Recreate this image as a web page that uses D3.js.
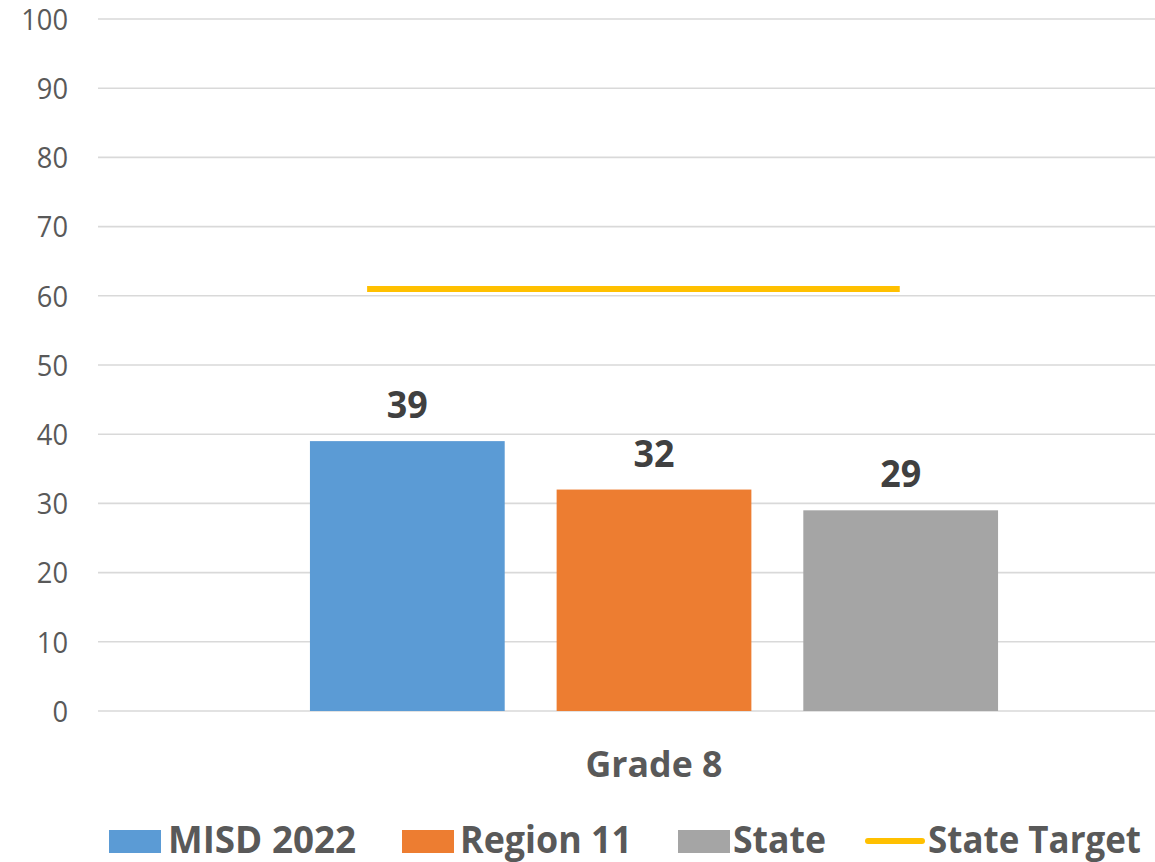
<!DOCTYPE html>
<html>
<head>
<meta charset="utf-8">
<script src="https://cdn.jsdelivr.net/npm/d3@7"></script>
<style>
  html, body { margin: 0; padding: 0; background: #fff; }
  svg { display: block; font-family: "Open Sans", Lato, sans-serif; }
</style>
</head>
<body>
<svg id="chart" width="1155" height="862"></svg>
<script>
// Chart data
const categories = ["Grade 8"];
const seriesNames = ["MISD 2022", "Region 11", "State"];
const seriesValues = [[39], [32], [29]];   // one value per category, per series
const targetName = "State Target";
const targetValues = [61];
const yTicks = [0, 10, 20, 30, 40, 50, 60, 70, 80, 90, 100];

const colors = ["#5B9BD5", "#ED7D31", "#A5A5A5"];
const targetColor = "#FFC000";

const plot = { left: 98, right: 1210, top: 19, bottom: 711 };

const svg = d3.select("#chart");

const y = d3.scaleLinear().domain([0, 100]).range([plot.bottom, plot.top]);
const x0 = d3.scaleBand().domain(categories).range([plot.left, plot.right]);
const bw = x0.bandwidth();
// bars sit in the middle of the category with a wide outer gap
const outerGap = 0.1906 * bw;
const x1 = d3.scaleBand().domain(seriesNames)
  .range([outerGap, bw - outerGap]).paddingInner(0.2105).paddingOuter(0);

// gridlines
svg.append("g").selectAll("line").data(yTicks).join("line")
  .attr("x1", plot.left).attr("x2", plot.right)
  .attr("y1", d => y(d)).attr("y2", d => y(d))
  .attr("stroke", "#D9D9D9").attr("stroke-width", 1.6);

// y axis labels
svg.append("g").selectAll("text").data(yTicks).join("text")
  .attr("x", 68).attr("y", d => y(d))
  .attr("dy", "0.36em")
  .attr("text-anchor", "end")
  .attr("fill", "#595959")
  .attr("font-size", 30)
  .attr("textLength", d => String(d).length * 15.6)
  .attr("lengthAdjust", "spacingAndGlyphs")
  .text(d => d);

// bars
const rows = [];
categories.forEach((c, ci) => seriesNames.forEach((s, si) =>
  rows.push({ cat: c, series: s, value: seriesValues[si][ci], color: colors[si] })));

svg.append("g").selectAll("rect").data(rows).join("rect")
  .attr("x", d => x0(d.cat) + x1(d.series))
  .attr("y", d => y(d.value))
  .attr("width", x1.bandwidth())
  .attr("height", d => y(0) - y(d.value))
  .attr("fill", d => d.color);

// value labels
svg.append("g").selectAll("text").data(rows).join("text")
  .attr("x", d => x0(d.cat) + x1(d.series) + x1.bandwidth() / 2)
  .attr("y", d => y(d.value) - 23)
  .attr("text-anchor", "middle")
  .attr("fill", "#404040")
  .attr("font-size", 37)
  .attr("font-weight", "bold")
  .attr("textLength", 41).attr("lengthAdjust", "spacingAndGlyphs")
  .text(d => d.value);

// state target line
const targetSpan = [0.242, 0.721];
svg.append("g").selectAll("line").data(categories).join("line")
  .attr("x1", c => x0(c) + targetSpan[0] * bw)
  .attr("x2", c => x0(c) + targetSpan[1] * bw)
  .attr("y1", (c, i) => y(targetValues[i]))
  .attr("y2", (c, i) => y(targetValues[i]))
  .attr("stroke", targetColor).attr("stroke-width", 6);

// category label
svg.append("g").selectAll("text").data(categories).join("text")
  .attr("x", c => x0(c) + bw / 2)
  .attr("y", 777)
  .attr("text-anchor", "middle")
  .attr("fill", "#595959")
  .attr("font-size", 36)
  .attr("font-weight", "bold")
  .attr("textLength", 137).attr("lengthAdjust", "spacingAndGlyphs")
  .text(c => c);

// legend
const legendItems = [
  { name: seriesNames[0], type: "rect", color: colors[0], sx: 109, tx: 168, tw: 188 },
  { name: seriesNames[1], type: "rect", color: colors[1], sx: 402, tx: 460, tw: 172 },
  { name: seriesNames[2], type: "rect", color: colors[2], sx: 678, tx: 733, tw: 93 },
  { name: targetName, type: "line", color: targetColor, sx: 868, tx: 928, tw: 213 }
];
const lg = svg.append("g");
legendItems.forEach(d => {
  if (d.type === "rect") {
    lg.append("rect").attr("x", d.sx).attr("y", 830).attr("width", 52).attr("height", 23)
      .attr("fill", d.color);
  } else {
    lg.append("line").attr("x1", d.sx).attr("x2", d.sx + 54)
      .attr("y1", 841).attr("y2", 841)
      .attr("stroke", d.color).attr("stroke-width", 6).attr("stroke-linecap", "round");
  }
  lg.append("text").attr("x", d.tx).attr("y", 853)
    .attr("fill", "#595959").attr("font-size", 37).attr("font-weight", "bold")
    .attr("textLength", d.tw).attr("lengthAdjust", "spacingAndGlyphs")
    .text(d.name);
});
</script>
</body>
</html>
